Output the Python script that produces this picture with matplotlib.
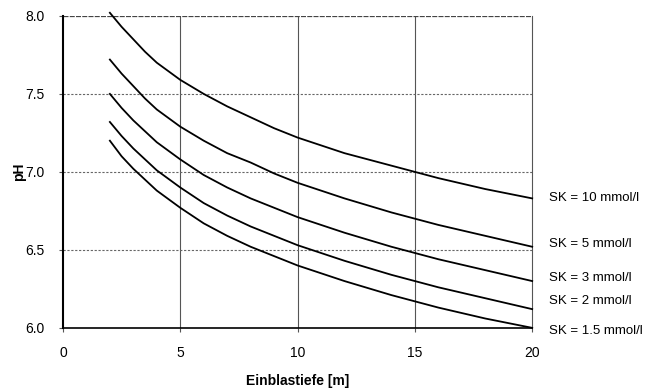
import matplotlib.pyplot as plt

plt.rcParams['font.family'] = ['Liberation Sans', 'DejaVu Sans']

# depth [m] and pH per SK value
depth = [2, 2.5, 3, 3.5, 4, 5, 6, 7, 8, 9, 10, 12, 14, 15, 16, 18, 20]
ph_sk10 = [8.02, 7.93, 7.85, 7.77, 7.70, 7.59, 7.50, 7.42, 7.35, 7.28, 7.22,
           7.12, 7.04, 7.00, 6.96, 6.89, 6.83]
ph_sk5 = [7.72, 7.63, 7.55, 7.47, 7.40, 7.29, 7.20, 7.12, 7.06, 6.99, 6.93,
          6.83, 6.74, 6.70, 6.66, 6.59, 6.52]
ph_sk3 = [7.50, 7.41, 7.33, 7.26, 7.19, 7.08, 6.98, 6.90, 6.83, 6.77, 6.71,
          6.61, 6.52, 6.48, 6.44, 6.37, 6.30]
ph_sk2 = [7.32, 7.23, 7.15, 7.08, 7.01, 6.90, 6.80, 6.72, 6.65, 6.59, 6.53,
          6.43, 6.34, 6.30, 6.26, 6.19, 6.12]
ph_sk15 = [7.20, 7.10, 7.02, 6.95, 6.88, 6.77, 6.67, 6.59, 6.52, 6.46, 6.40,
           6.30, 6.21, 6.17, 6.13, 6.06, 6.00]

series = [ph_sk10, ph_sk5, ph_sk3, ph_sk2, ph_sk15]
labels = ["SK = 10 mmol/l", "SK = 5 mmol/l", "SK = 3 mmol/l",
          "SK = 2 mmol/l", "SK = 1.5 mmol/l"]
label_y = [6.83, 6.54, 6.32, 6.17, 5.98]

fig = plt.figure(figsize=(6.49, 3.88), dpi=100)
ax = fig.add_axes([0.097, 0.155, 0.723, 0.804])

# grid: solid verticals, dotted horizontals
for xv in [5, 10, 15]:
    ax.axvline(xv, color='#555555', lw=0.8, zorder=1)
for yv in [6.5, 7.0, 7.5]:
    ax.axhline(yv, color='#666666', lw=0.8, ls=(0, (2, 1.5)), zorder=1)
ax.axhline(8.0, color='#444444', lw=0.9, ls=(0, (4, 1)), zorder=1)

for ys in series:
    ax.plot(depth, ys, color='black', lw=1.3, zorder=3, clip_on=False)

for lab, yl in zip(labels, label_y):
    ax.text(20.7, yl, lab, fontsize=9.5, va='center', ha='left', clip_on=False)

ax.set_xlim(0, 20)
ax.set_ylim(6.0, 8.0)
ax.set_xticks([0, 5, 10, 15, 20])
ax.set_yticks([6.0, 6.5, 7.0, 7.5, 8.0])
ax.set_yticklabels(["6.0", "6.5", "7.0", "7.5", "8.0"])
ax.tick_params(labelsize=10, length=3, color='#555555', pad=10)

ax.spines['top'].set_visible(False)
ax.spines['right'].set_color('#555555')
ax.spines['right'].set_linewidth(0.8)
ax.spines['left'].set_linewidth(1.5)
ax.spines['bottom'].set_linewidth(1.2)

ax.set_xlabel("Einblastiefe [m]", fontsize=10, fontweight='bold', labelpad=10)
ax.set_ylabel("pH", fontsize=10, fontweight='bold', labelpad=0)

fig.savefig("out.png", dpi=100)
